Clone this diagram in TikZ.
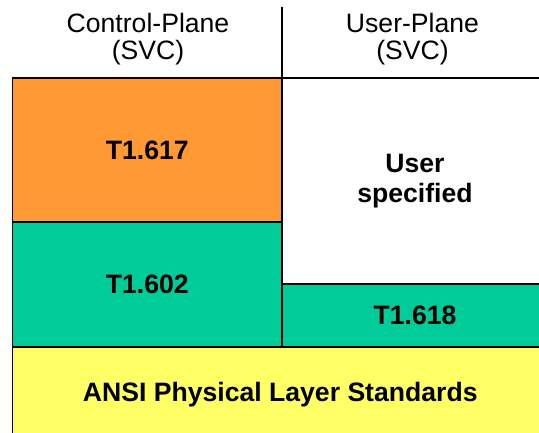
\documentclass[tikz,border=0pt]{standalone}
\usepackage{fontspec}
\setmainfont{Liberation Sans}
\usetikzlibrary{positioning}
\definecolor{cporange}{RGB}{255,153,51}
\definecolor{tealgreen}{RGB}{0,204,153}
\definecolor{ansiyellow}{RGB}{255,255,102}

\begin{document}
\begin{tikzpicture}[x=1pt, y=-1pt,
        layer/.style={draw=black, line width=1.2pt, inner sep=0pt, outer sep=0pt,
          font=\fontsize{26.6}{30}\selectfont\bfseries, align=center},
        head/.style={font=\fontsize{26.6}{27}\selectfont, align=center}]
  \useasboundingbox (0,0) rectangle (539,432);
  \clip (0,0) rectangle (539,432);
  % headers
  \node[head] (cphead) at (148,39.5) {Control-Plane\\(SVC)};
  \node[head] (uphead) at (412.5,39.5) {User-Plane\\(SVC)};
  % control plane stack
  \node[layer, fill=cporange, minimum width=269.5pt, minimum height=144pt, anchor=north west] (t617) at (12.5,78) {T1.617};
  \node[layer, fill=tealgreen, minimum width=269.5pt, minimum height=125pt,
    below right=0pt and 0pt of t617.south west] (t602) {T1.602};
  % user plane stack
  \node[layer, fill=white, minimum width=266pt, minimum height=206pt,
    right=0pt of t617.north east, anchor=north west] (usr) {User\\specified};
  \node[layer, fill=tealgreen, minimum width=266pt, minimum height=63pt,
    below right=0pt and 0pt of usr.south west] (t618) {T1.618};
  % physical layer
  \node[layer, fill=ansiyellow, minimum width=535.5pt, minimum height=96pt,
    below right=0pt and 0pt of t602.south west] (ansi) {ANSI Physical Layer Standards};
  % divider
  \coordinate (divtop) at (282,7);
  \draw[line width=1.2pt] (divtop) -- (usr.north west);
\end{tikzpicture}
\end{document}
